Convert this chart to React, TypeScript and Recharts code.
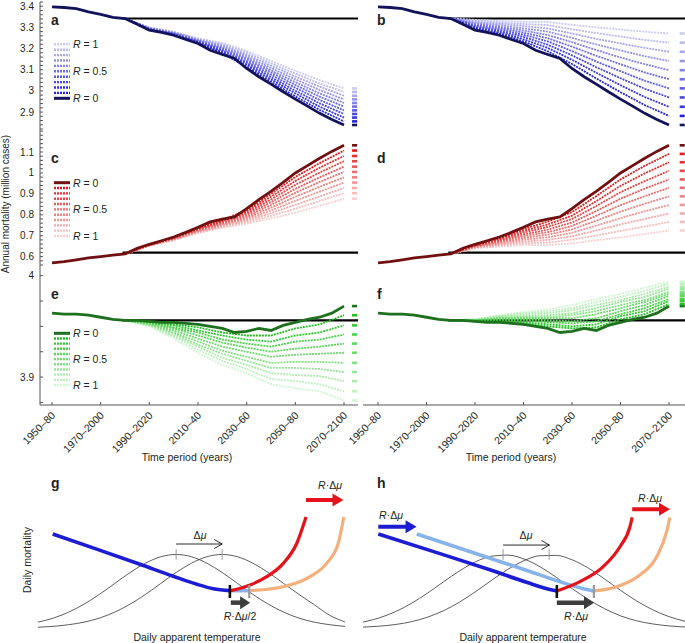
import React from "react";
import { LineChart, Line, XAxis, YAxis } from "recharts";

// start year of each 30-year period
const years = [1950, 1955, 1960, 1965, 1970, 1975, 1980, 1985, 1990, 1995, 2000, 2005, 2010, 2015, 2020, 2025, 2030, 2035, 2040, 2045, 2050, 2055, 2060, 2065, 2070];
const fanYears = [1980, 1990, 2000, 2010, 2020, 2030, 2040, 2050, 2060, 2070];
const periodTicks = [1950, 1970, 1990, 2010, 2030, 2050, 2070];
const periodLabels = ["1950–80", "1970–2000", "1990–2020", "2010–40", "2030–60", "2050–80", "2070–2100"];

// R = 0 (no adaptation) series, million cases
const coldR0 = [3.397, 3.394, 3.389, 3.373, 3.362, 3.347, 3.342, 3.315, 3.287, 3.277, 3.263, 3.243, 3.224, 3.192, 3.172, 3.153, 3.106, 3.067, 3.032, 2.996, 2.961, 2.928, 2.894, 2.865, 2.839];
const heatR0 = [0.57, 0.576, 0.585, 0.594, 0.6, 0.607, 0.613, 0.64, 0.659, 0.676, 0.694, 0.716, 0.74, 0.766, 0.779, 0.79, 0.829, 0.872, 0.912, 0.955, 1.0, 1.035, 1.07, 1.103, 1.132];
const netR0 = [3.963, 3.962, 3.962, 3.961, 3.959, 3.957, 3.956, 3.956, 3.955, 3.954, 3.954, 3.953, 3.952, 3.95, 3.948, 3.944, 3.945, 3.948, 3.946, 3.951, 3.954, 3.957, 3.959, 3.963, 3.97];

// rows = fanYears, columns = R 0.1 ... 1
const fanA = [
  [3.342, 3.342, 3.342, 3.342, 3.342, 3.342, 3.342, 3.342, 3.342, 3.342],
  [3.288, 3.29, 3.291, 3.292, 3.294, 3.295, 3.296, 3.297, 3.299, 3.3],
  [3.265, 3.266, 3.268, 3.27, 3.272, 3.273, 3.275, 3.277, 3.278, 3.28],
  [3.226, 3.229, 3.231, 3.234, 3.236, 3.238, 3.241, 3.243, 3.246, 3.248],
  [3.178, 3.183, 3.189, 3.194, 3.2, 3.205, 3.211, 3.216, 3.222, 3.227],
  [3.114, 3.123, 3.131, 3.139, 3.148, 3.156, 3.164, 3.172, 3.181, 3.189],
  [3.043, 3.054, 3.065, 3.076, 3.087, 3.097, 3.108, 3.119, 3.13, 3.141],
  [2.974, 2.988, 3.001, 3.015, 3.028, 3.041, 3.055, 3.068, 3.082, 3.095],
  [2.91, 2.925, 2.941, 2.957, 2.973, 2.988, 3.004, 3.02, 3.035, 3.051],
  [2.856, 2.874, 2.891, 2.908, 2.926, 2.943, 2.96, 2.977, 2.995, 3.012],
];
const fanB = [
  [3.342, 3.342, 3.342, 3.342, 3.342, 3.342, 3.342, 3.342, 3.342, 3.342],
  [3.292, 3.297, 3.302, 3.307, 3.312, 3.316, 3.321, 3.326, 3.331, 3.336],
  [3.27, 3.276, 3.283, 3.29, 3.297, 3.303, 3.31, 3.317, 3.323, 3.33],
  [3.234, 3.244, 3.255, 3.265, 3.275, 3.285, 3.295, 3.306, 3.316, 3.326],
  [3.187, 3.203, 3.218, 3.234, 3.249, 3.264, 3.28, 3.295, 3.311, 3.326],
  [3.127, 3.147, 3.168, 3.188, 3.209, 3.23, 3.25, 3.271, 3.291, 3.312],
  [3.059, 3.086, 3.112, 3.139, 3.166, 3.193, 3.22, 3.246, 3.273, 3.3],
  [2.994, 3.027, 3.06, 3.093, 3.126, 3.158, 3.191, 3.224, 3.257, 3.29],
  [2.933, 2.971, 3.01, 3.048, 3.087, 3.126, 3.164, 3.203, 3.241, 3.28],
  [2.882, 2.925, 2.969, 3.012, 3.055, 3.098, 3.141, 3.185, 3.228, 3.271],
];
const fanC = [
  [0.613, 0.613, 0.613, 0.613, 0.613, 0.613, 0.613, 0.613, 0.613, 0.613],
  [0.658, 0.658, 0.657, 0.656, 0.656, 0.655, 0.654, 0.653, 0.653, 0.652],
  [0.692, 0.691, 0.689, 0.688, 0.686, 0.684, 0.683, 0.681, 0.68, 0.678],
  [0.737, 0.734, 0.732, 0.729, 0.726, 0.723, 0.72, 0.718, 0.715, 0.712],
  [0.775, 0.771, 0.767, 0.763, 0.759, 0.754, 0.75, 0.746, 0.742, 0.738],
  [0.822, 0.815, 0.807, 0.8, 0.793, 0.786, 0.779, 0.771, 0.764, 0.757],
  [0.899, 0.886, 0.873, 0.86, 0.847, 0.834, 0.821, 0.808, 0.795, 0.782],
  [0.981, 0.962, 0.943, 0.924, 0.905, 0.886, 0.867, 0.848, 0.829, 0.81],
  [1.047, 1.025, 1.002, 0.979, 0.957, 0.934, 0.911, 0.888, 0.866, 0.843],
  [1.107, 1.081, 1.056, 1.03, 1.005, 0.979, 0.954, 0.928, 0.903, 0.877],
];
const fanD = [
  [0.613, 0.613, 0.613, 0.613, 0.613, 0.613, 0.613, 0.613, 0.613, 0.613],
  [0.657, 0.655, 0.653, 0.651, 0.65, 0.648, 0.646, 0.644, 0.642, 0.64],
  [0.689, 0.685, 0.68, 0.676, 0.671, 0.666, 0.662, 0.657, 0.653, 0.648],
  [0.732, 0.723, 0.715, 0.706, 0.698, 0.689, 0.681, 0.672, 0.664, 0.655],
  [0.767, 0.754, 0.742, 0.729, 0.717, 0.705, 0.692, 0.68, 0.667, 0.655],
  [0.813, 0.796, 0.78, 0.763, 0.747, 0.73, 0.714, 0.697, 0.681, 0.664],
  [0.889, 0.865, 0.842, 0.818, 0.795, 0.772, 0.748, 0.725, 0.701, 0.678],
  [0.969, 0.938, 0.908, 0.877, 0.846, 0.815, 0.784, 0.754, 0.723, 0.692],
  [1.034, 0.998, 0.961, 0.925, 0.889, 0.853, 0.817, 0.78, 0.744, 0.708],
  [1.091, 1.051, 1.01, 0.969, 0.929, 0.888, 0.847, 0.806, 0.766, 0.725],
];
const fanE = [
  [3.956, 3.956, 3.956, 3.956, 3.956, 3.956, 3.956, 3.956, 3.956, 3.956],
  [3.955, 3.954, 3.954, 3.953, 3.953, 3.952, 3.952, 3.951, 3.951, 3.95],
  [3.952, 3.951, 3.949, 3.948, 3.946, 3.944, 3.943, 3.941, 3.94, 3.938],
  [3.949, 3.946, 3.944, 3.941, 3.938, 3.935, 3.932, 3.93, 3.927, 3.924],
  [3.944, 3.941, 3.937, 3.934, 3.93, 3.926, 3.923, 3.919, 3.916, 3.912],
  [3.941, 3.937, 3.933, 3.929, 3.925, 3.92, 3.916, 3.912, 3.908, 3.904],
  [3.941, 3.935, 3.93, 3.925, 3.92, 3.914, 3.909, 3.904, 3.898, 3.893],
  [3.948, 3.941, 3.935, 3.928, 3.922, 3.915, 3.909, 3.902, 3.896, 3.889],
  [3.952, 3.944, 3.937, 3.93, 3.923, 3.915, 3.908, 3.901, 3.893, 3.886],
  [3.961, 3.951, 3.942, 3.933, 3.924, 3.914, 3.905, 3.896, 3.886, 3.877],
];
const fanF = [
  [3.956, 3.956, 3.956, 3.956, 3.956, 3.956, 3.956, 3.956, 3.956, 3.956],
  [3.955, 3.955, 3.956, 3.956, 3.956, 3.956, 3.956, 3.957, 3.957, 3.957],
  [3.955, 3.955, 3.956, 3.957, 3.958, 3.958, 3.959, 3.96, 3.96, 3.961],
  [3.953, 3.954, 3.956, 3.957, 3.958, 3.959, 3.96, 3.962, 3.963, 3.964],
  [3.95, 3.952, 3.954, 3.956, 3.958, 3.959, 3.961, 3.963, 3.965, 3.967],
  [3.948, 3.95, 3.953, 3.955, 3.958, 3.961, 3.963, 3.966, 3.968, 3.971],
  [3.949, 3.952, 3.955, 3.958, 3.962, 3.965, 3.968, 3.971, 3.974, 3.977],
  [3.957, 3.96, 3.962, 3.965, 3.968, 3.971, 3.974, 3.976, 3.979, 3.982],
  [3.962, 3.965, 3.968, 3.971, 3.974, 3.976, 3.979, 3.982, 3.985, 3.988],
  [3.972, 3.975, 3.977, 3.98, 3.982, 3.984, 3.987, 3.989, 3.992, 3.994],
];

// reference level (1971-2000 climate)
const baseCold = 3.342;
const baseHeat = 0.619;
const baseNet = 3.956;
const baseStart = 1979;

const ticksCold = [2.82, 2.84, 2.86, 2.88, 2.9, 2.92, 2.94, 2.96, 2.98, 3, 3.02, 3.04, 3.06, 3.08, 3.1, 3.12, 3.14, 3.16, 3.18, 3.2, 3.22, 3.24, 3.26, 3.28, 3.3, 3.32, 3.34, 3.36, 3.38, 3.4, 3.42];
const labelsCold = ["2.9", "3", "3.1", "3.2", "3.3", "3.4"];
const ticksHeat = [0.56, 0.58, 0.6, 0.62, 0.64, 0.66, 0.68, 0.7, 0.72, 0.74, 0.76, 0.78, 0.8, 0.82, 0.84, 0.86, 0.88, 0.9, 0.92, 0.94, 0.96, 0.98, 1, 1.02, 1.04, 1.06, 1.08, 1.1, 1.12, 1.14, 1.16, 1.18, 1.2];
const labelsHeat = ["0.6", "0.7", "0.8", "0.9", "1", "1.1"];
const ticksNet = [3.875, 3.9, 3.925, 3.95, 3.975, 4];
const labelsNet = ["3.9", "4"];

// schematic panels g and h (arbitrary units 0-100)
const gaussXs = [0, 5, 10, 15, 20, 25, 30, 35, 40, 45, 50, 55, 60, 65, 70, 75, 80, 85, 90, 95, 100];
const gCurveA = [3.9, 6.6, 10.6, 15.9, 22.4, 29.7, 37.0, 43.2, 47.5, 49, 47.5, 43.2, 37.0, 29.7, 22.4, 15.9, 10.6, 6.6, 3.9, 2.2, 1.1];
const gCurveB = [0.5, 1.1, 2.2, 3.9, 6.6, 10.6, 15.9, 22.4, 29.7, 37.0, 43.2, 47.5, 49, 47.5, 43.2, 37.0, 29.7, 22.4, 15.5, 8.5, 4.0];
const gPeaks = [45, 60];
const gShift = [[45, 56], [60, 56]];
const gCold = [[4.8, 62.7], [19.1, 52.6], [33.2, 42.5], [44.1, 34.5], [51.7, 29.2], [57.1, 26.2], [62.5, 24.9]];
const gColdShifted = [[62.5, 24.9], [68.8, 24.9]];
const gHot = [[62.8, 24.9], [69.1, 28.7], [74.5, 34.2], [79.9, 43.1], [84.3, 56.5], [87.3, 74]];
const gHotShifted = [[69.1, 24.9], [79.9, 27.5], [88.6, 34.2], [94, 43.1], [97.8, 56.5], [99.6, 74]];
const gOptimum = [62.5, 68.8];
const gHotArrow = [[87.3, 85.3], [98.2, 85.3]];
const gMinArrow = [[62.8, 16.9], [67.8, 16.9]];

const hCurveA = [3.9, 6.7, 10.8, 16.4, 23.2, 30.8, 38.1, 44.2, 47.9, 48.6, 46.0, 40.8, 33.8, 26.2, 19.0, 12.9, 8.1, 4.8, 2.7, 1.4, 0.7];
const hCurveB = [0.6, 1.2, 2.3, 4.2, 7.2, 11.5, 17.3, 24.3, 31.9, 39.1, 44.9, 48.2, 48.4, 45.4, 39.9, 32.7, 25.1, 18.0, 12.1, 7.6, 4.5];
const hPeaks = [43.5, 57.8];
const hShift = [[43.5, 55.3], [57.9, 55.3]];
const hCold = [[4.75, 62.7], [23.9, 49.6], [39.4, 38.8], [50.8, 30.5], [57.1, 26.2], [60.2, 24.7]];
const hColdShifted = [[16.7, 62.7], [34.3, 50.2], [49.8, 39.2], [63.3, 29.4], [69.5, 25.6], [71.5, 24.7]];
const hHot = [[60.2, 24.7], [67.4, 30.9], [74.6, 40.9], [79.8, 54.2], [82.9, 67.5], [83.6, 73.8]];
const hHotShifted = [[71.7, 24.7], [78.8, 27.5], [86.0, 35.3], [91.2, 47.5], [94.3, 64.2], [95.3, 73.8]];
const hOptimum = [60.2, 71.7];
const hHotArrow = [[83.6, 79.1], [94.1, 79.1]];
const hColdArrow = [[4.75, 67.5], [15.4, 67.5]];
const hMinArrow = [[60.2, 16.9], [70.5, 16.9]];

const blues = ["#13135c", "#2424d9", "#3535dc", "#4848e0", "#5b5be4", "#6e6ee7", "#8181ea", "#9494ed", "#a7a7f0", "#babaf3", "#ccccf6"];
const reds = ["#701010", "#df1c1c", "#e23030", "#e54545", "#e85959", "#eb6d6d", "#ee8181", "#f19595", "#f3a9a9", "#f6bdbd", "#f8d0d0"];
const greens = ["#1e701e", "#20c020", "#34c834", "#48cf48", "#5cd55c", "#70da70", "#84df84", "#98e498", "#acebac", "#c0f0c0", "#d2f5d2"];

const FONT = '"Liberation Sans", Arial, Helvetica, sans-serif';
const INK = "#231f20";
const AXIS = "#555";

const leftX: [number, number] = [1945.07, 2075.75];
const rightX: [number, number] = [1943.81, 2076.6];

const XTick = (props: any) => {
  const { x, y, payload } = props;
  const i = periodTicks.indexOf(payload.value);
  return (
    <g>
      <line x1={x} x2={x} y1={y} y2={y - 3} stroke={AXIS} />
      <text transform={`translate(${x + 4},${y + 11}) rotate(-45)`} textAnchor="end" fontSize={10.5} fill={INK} fontFamily={FONT}>
        {periodLabels[i]}
      </text>
    </g>
  );
};

const makeYTick = (labels: string[]) => (props: any) => {
  const { x, y, payload } = props;
  const lab = labels.find((l) => Math.abs(Number(l) - payload.value) < 1e-6);
  return (
    <g>
      <line x1={x} x2={x + 3} y1={y} y2={y} stroke={AXIS} />
      {lab && (
        <text x={x - 6} y={y + 3.5} textAnchor="end" fontSize={10} fill={INK} fontFamily={FONT}>
          {lab}
        </text>
      )}
    </g>
  );
};

type PanelProps = {
  left: number;
  top: number;
  width: number;
  height: number;
  margin: { top: number; right: number; bottom: number; left: number };
  xDomain: [number, number];
  yDomain: [number, number];
  r0: number[];
  fan: number[][];
  colors: string[];
  baseline: number;
  marker: [number, number];
  yTicks?: number[];
  yLabels?: string[];
  showX?: boolean;
};

function FanPanel(p: PanelProps) {
  const r0Data = years.map((year, i) => ({ year, v: p.r0[i] }));
  const fanData = fanYears.map((year, i) => {
    const row: any = { year };
    p.fan[i].forEach((v, k) => (row[`r${k + 1}`] = v));
    return row;
  });
  const last = p.fan[p.fan.length - 1];
  const ends = [p.r0[p.r0.length - 1], ...last];
  const ks = [10, 9, 8, 7, 6, 5, 4, 3, 2, 1];
  return (
    <div style={{ position: "absolute", left: p.left, top: p.top }}>
      <LineChart width={p.width} height={p.height} margin={p.margin}>
        <XAxis
          type="number"
          dataKey="year"
          domain={p.xDomain}
          allowDataOverflow
          hide={!p.showX}
          ticks={periodTicks}
          interval={0}
          tick={XTick}
          tickSize={0}
          tickMargin={0}
          tickLine={false}
          height={50}
          axisLine={{ stroke: AXIS }}
        />
        {p.yTicks ? (
          <YAxis
            type="number"
            domain={p.yDomain}
            allowDataOverflow
            ticks={p.yTicks}
            interval={0}
            width={40}
            tickSize={0}
            tickMargin={0}
            tickLine={false}
            axisLine={{ stroke: AXIS }}
            tick={makeYTick(p.yLabels || [])}
          />
        ) : (
          <YAxis type="number" domain={p.yDomain} allowDataOverflow hide />
        )}
        <Line
          data={[{ year: baseStart, v: p.baseline }, { year: p.xDomain[1], v: p.baseline }]}
          dataKey="v"
          stroke="#000"
          strokeWidth={2.2}
          dot={false}
          activeDot={false}
          isAnimationActive={false}
        />
        {ks.map((k) => (
          <Line
            key={`f${k}`}
            data={fanData}
            dataKey={`r${k}`}
            stroke={p.colors[k]}
            strokeWidth={1.8}
            strokeDasharray="2 1"
            dot={false}
            activeDot={false}
            isAnimationActive={false}
          />
        ))}
        <Line data={r0Data} dataKey="v" stroke={p.colors[0]} strokeWidth={2.8} dot={false} activeDot={false} isAnimationActive={false} />
        {ends.map((v, k) => (
          <Line
            key={`m${k}`}
            data={[{ year: p.marker[0], v }, { year: p.marker[1], v }]}
            dataKey="v"
            stroke={p.colors[k]}
            strokeWidth={2.6}
            dot={false}
            activeDot={false}
            isAnimationActive={false}
          />
        ))}
      </LineChart>
    </div>
  );
}

const pts = (arr: number[][]) => arr.map(([x, y]) => ({ x, y }));

const filledHead = (color: string, n: number, len: number, half: number) => (props: any) => {
  const { cx, cy, index } = props;
  if (index !== n - 1) return <g key={index} />;
  return <polygon key={index} points={`${cx + 4},${cy} ${cx + 4 - len},${cy - half} ${cx + 4 - len},${cy + half}`} fill={color} />;
};

const openHead = (n: number) => (props: any) => {
  const { cx, cy, index } = props;
  if (index !== n - 1) return <g key={index} />;
  return <polyline key={index} points={`${cx - 8},${cy - 4.5} ${cx},${cy} ${cx - 8},${cy + 4.5}`} fill="none" stroke="#111" strokeWidth={0.9} />;
};

const seg = (data: any[], stroke: string, width: number, extra: any = {}) => (
  <Line data={data} dataKey="y" stroke={stroke} strokeWidth={width} dot={false} activeDot={false} isAnimationActive={false} {...extra} />
);

function Schematic(p: {
  left: number;
  width: number;
  margin: any;
  showY: boolean;
  curveA: number[];
  curveB: number[];
  peaks: number[];
  shift: number[][];
  cold: number[][];
  coldShifted: number[][];
  hot: number[][];
  hotShifted: number[][];
  optimum: number[];
  hotArrow: number[][];
  minArrow: number[][];
  coldArrow?: number[][];
}) {
  return (
    <div style={{ position: "absolute", left: p.left, top: 470 }}>
      <LineChart width={p.width} height={170} margin={p.margin}>
        <XAxis type="number" dataKey="x" domain={[0, 100]} tick={false} tickLine={false} height={0} axisLine={{ stroke: "#444", strokeWidth: 1.2 }} />
        <YAxis
          type="number"
          domain={[0, 100]}
          tick={false}
          tickLine={false}
          width={0}
          hide={!p.showY}
          axisLine={{ stroke: "#444", strokeWidth: 1.2 }}
        />
        {seg(gaussXs.map((x, i) => ({ x, y: p.curveA[i] })), "#333", 0.8, { type: "monotone" })}
        {seg(gaussXs.map((x, i) => ({ x, y: p.curveB[i] })), "#333", 0.8, { type: "monotone" })}
        {p.peaks.map((x, i) => (
          <Line key={`pk${i}`} data={[{ x, y: 45.5 }, { x, y: 52.5 }]} dataKey="y" stroke="#999" strokeWidth={1} dot={false} activeDot={false} isAnimationActive={false} />
        ))}
        {seg(pts(p.shift), "#111", 0.9, { dot: openHead(2) })}
        {seg(pts(p.cold), "#1c1cd2", 3.6, { type: "monotone" })}
        {seg(pts(p.coldShifted), "#86b4ea", 3.6, { type: "monotone" })}
        {seg(pts(p.hotShifted), "#f4b07c", 3.2, { type: "monotone" })}
        {seg(pts(p.hot), "#e5121b", 3.2, { type: "monotone" })}
        {seg([{ x: p.optimum[1], y: 20 }, { x: p.optimum[1], y: 28.7 }], "#9a9a9a", 2.2)}
        {seg([{ x: p.optimum[0], y: 20 }, { x: p.optimum[0], y: 28.7 }], "#111", 2.6)}
        {seg(pts(p.hotArrow), "#e5121b", 4, { dot: filledHead("#e5121b", 2, 11, 6.5) })}
        {p.coldArrow && seg(pts(p.coldArrow), "#1c1cd2", 4, { dot: filledHead("#1c1cd2", 2, 11, 6.5) })}
        {seg(pts(p.minArrow), "#3d3d3d", 4.5, { dot: filledHead("#3d3d3d", 2, 10, 6.5) })}
      </LineChart>
    </div>
  );
}

function FanKey({ x, y0, step, colors, oneOnTop }: { x: number; y0: number; step: number; colors: string[]; oneOnTop: boolean }) {
  const order = oneOnTop ? [10, 9, 8, 7, 6, 5, 4, 3, 2, 1, 0] : [0, 1, 2, 3, 4, 5, 6, 7, 8, 9, 10];
  const label = (val: string, y: number) => (
    <text x={x + 19} y={y + 3.8} fontSize={10.5} fill={INK} fontFamily={FONT}>
      <tspan fontStyle="italic">R</tspan> = {val}
    </text>
  );
  return (
    <g>
      {order.map((k, i) => (
        <line
          key={k}
          x1={x}
          x2={x + 16}
          y1={y0 + i * step}
          y2={y0 + i * step}
          stroke={colors[k]}
          strokeWidth={k === 0 ? 3 : 2.4}
          strokeDasharray={k === 0 ? undefined : "2 1"}
        />
      ))}
      {label(oneOnTop ? "1" : "0", y0)}
      {label("0.5", y0 + 5 * step)}
      {label(oneOnTop ? "0" : "1", y0 + 10 * step)}
    </g>
  );
}

const RDmu = ({ tail }: { tail?: string }) => (
  <>
    <tspan fontStyle="italic">R</tspan>·Δ<tspan fontStyle="italic">μ</tspan>
    {tail}
  </>
);

export default function App() {
  const leftM = { top: 2, right: 2, bottom: 2, left: 0 };
  const rightM = { top: 2, right: 0, bottom: 2, left: 43 };
  return (
    <div style={{ position: "absolute", left: 0, top: 0, width: 685, height: 643, background: "#fff", fontFamily: FONT }}>
      <FanPanel left={0} top={0} width={360} height={131} margin={leftM} xDomain={leftX} yDomain={[2.82, 3.42]} r0={coldR0} fan={fanA} colors={blues} baseline={baseCold} marker={[2073.3, 2075.4]} yTicks={ticksCold} yLabels={labelsCold} />
      <FanPanel left={320} top={0} width={365} height={131} margin={rightM} xDomain={rightX} yDomain={[2.82, 3.42]} r0={coldR0} fan={fanB} colors={blues} baseline={baseCold} marker={[2074.4, 2076.5]} />
      <FanPanel left={0} top={127} width={360} height={140} margin={leftM} xDomain={leftX} yDomain={[0.56, 1.21]} r0={heatR0} fan={fanC} colors={reds} baseline={baseHeat} marker={[2073.3, 2075.4]} yTicks={ticksHeat} yLabels={labelsHeat} />
      <FanPanel left={320} top={127} width={365} height={140} margin={rightM} xDomain={rightX} yDomain={[0.56, 1.21]} r0={heatR0} fan={fanD} colors={reds} baseline={baseHeat} marker={[2074.4, 2076.5]} />
      <FanPanel left={0} top={263} width={360} height={192} margin={{ ...leftM, bottom: 0 }} xDomain={leftX} yDomain={[3.8725, 4.0105]} r0={netR0} fan={fanE} colors={greens} baseline={baseNet} marker={[2073.3, 2075.4]} yTicks={ticksNet} yLabels={labelsNet} showX />
      <FanPanel left={320} top={263} width={365} height={192} margin={{ ...rightM, bottom: 0 }} xDomain={rightX} yDomain={[3.8725, 4.0105]} r0={netR0} fan={fanF} colors={greens} baseline={baseNet} marker={[2074.4, 2076.5]} showX />

      <Schematic
        left={0}
        width={350}
        margin={{ top: 8, right: 5, bottom: 12, left: 38 }}
        showY
        curveA={gCurveA}
        curveB={gCurveB}
        peaks={gPeaks}
        shift={gShift}
        cold={gCold}
        coldShifted={gColdShifted}
        hot={gHot}
        hotShifted={gHotShifted}
        optimum={gOptimum}
        hotArrow={gHotArrow}
        minArrow={gMinArrow}
      />
      <Schematic
        left={360}
        width={325}
        margin={{ top: 8, right: 0, bottom: 12, left: 3 }}
        showY={false}
        curveA={hCurveA}
        curveB={hCurveB}
        peaks={hPeaks}
        shift={hShift}
        cold={hCold}
        coldShifted={hColdShifted}
        hot={hHot}
        hotShifted={hHotShifted}
        optimum={hOptimum}
        hotArrow={hHotArrow}
        minArrow={hMinArrow}
        coldArrow={hColdArrow}
      />

      <svg width={685} height={643} style={{ position: "absolute", left: 0, top: 0, pointerEvents: "none" }} fontFamily={FONT}>
        <g fontWeight="bold" fontSize={14} fill={INK}>
          <text x={51} y={25}>a</text>
          <text x={377} y={25}>b</text>
          <text x={51} y={163}>c</text>
          <text x={377} y={163}>d</text>
          <text x={51} y={299}>e</text>
          <text x={377} y={299}>f</text>
          <text x={51} y={488}>g</text>
          <text x={377} y={488}>h</text>
        </g>
        <FanKey x={54} y0={44.3} step={5.4} colors={blues} oneOnTop />
        <FanKey x={54} y0={182.7} step={5.33} colors={reds} oneOnTop={false} />
        <FanKey x={54} y0={333.3} step={5.17} colors={greens} oneOnTop={false} />

        <text x={9} y={204} transform="rotate(-90 9 204)" textAnchor="middle" fontSize={10} fill={INK}>
          Annual mortality (million cases)
        </text>
        <text x={187} y={461} textAnchor="middle" fontSize={10.5} fill={INK}>Time period (years)</text>
        <text x={511} y={461} textAnchor="middle" fontSize={10.5} fill={INK}>Time period (years)</text>

        <text x={31} y={560} transform="rotate(-90 31 560)" textAnchor="middle" fontSize={10.5} fill={INK}>Daily mortality</text>
        <text x={197} y={641} textAnchor="middle" fontSize={10.5} fill={INK}>Daily apparent temperature</text>
        <text x={523} y={641} textAnchor="middle" fontSize={10.5} fill={INK}>Daily apparent temperature</text>

        <g fontSize={10.5} fill={INK} textAnchor="middle">
          <text x={200} y={539}>Δ<tspan fontStyle="italic">μ</tspan></text>
          <text x={330} y={489}><RDmu /></text>
          <text x={240} y={620}><RDmu tail="/2" /></text>
          <text x={391} y={519}><RDmu /></text>
          <text x={526} y={539}>Δ<tspan fontStyle="italic">μ</tspan></text>
          <text x={650} y={502}><RDmu /></text>
          <text x={576} y={620}><RDmu /></text>
        </g>
      </svg>
    </div>
  );
}
